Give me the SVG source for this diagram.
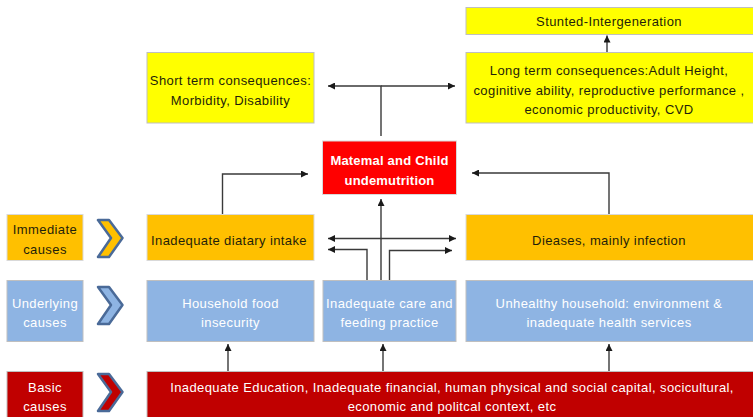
<svg xmlns="http://www.w3.org/2000/svg" width="753" height="417" viewBox="0 0 753 417">
<defs>
<style>
text{font-family:"Liberation Sans",Arial,sans-serif;font-size:13px;letter-spacing:0.4px;text-anchor:middle}
.dk{fill:#1f1f0a}
.wt{fill:#ffffff}
.bold{font-weight:bold;letter-spacing:0.2px}
.yel{fill:#ffff00;stroke:#bfbfbf;stroke-width:1}
.org{fill:#ffc000;stroke:#d9d9d9;stroke-width:1}
.blu{fill:#8eb4e3;stroke:#bfbfbf;stroke-width:1}
.red{fill:#c00000;stroke:#bfbfbf;stroke-width:1}
.mat{fill:#ff0000;stroke:#d9d9d9;stroke-width:1}
.chev{stroke:#4a6a98;stroke-width:2.5;stroke-linejoin:round}
.con path{fill:none;stroke:#3a3a3a;stroke-width:1.4}
</style>
<marker id="ah" viewBox="0 0 10 10" refX="10" refY="5" markerWidth="8" markerHeight="7" markerUnits="userSpaceOnUse" orient="auto-start-reverse">
<path d="M0,0 L10,5 L0,10 z" fill="#1a1a1a"/>
</marker>
</defs>
<rect width="753" height="417" fill="#ffffff"/>

<g id="stunted">
<rect class="yel" x="466" y="7.5" width="290" height="27"/>
<text class="dk" x="609" y="26">Stunted-Intergeneration</text>
</g>
<g id="short-term">
<rect class="yel" x="147" y="52.5" width="167" height="70.5"/>
<text class="dk" x="230.5" y="84.5">Short term consequences:</text>
<text class="dk" x="230.5" y="105">Morbidity, Disability</text>
</g>
<g id="long-term">
<rect class="yel" x="466" y="52.5" width="290" height="70.5"/>
<text class="dk" x="609" y="74.5">Long term consequences:Adult Height,</text>
<text class="dk" x="609" y="95">coginitive ability, reproductive performance ,</text>
<text class="dk" x="609" y="114">economic productivity, CVD</text>
</g>
<g id="maternal">
<rect class="mat" x="322.5" y="141" width="134" height="53.5"/>
<text class="wt bold" x="389.5" y="164.5">Matemal and Child</text>
<text class="wt bold" x="389.5" y="184.5">undemutrition</text>
</g>

<g id="immediate-label">
<rect class="org" x="7" y="214.5" width="76" height="46"/>
<text class="dk" x="45" y="234">Immediate</text>
<text class="dk" x="45" y="253.5">causes</text>
</g>
<g id="immediate-chevron">
<path class="chev" fill="#ffc000" d="M98,220 H109 L122.5,238 L109,257 H98 L111,238 Z"/>
</g>
<g id="intake">
<rect class="org" x="147" y="214.5" width="167" height="46"/>
<text class="dk" x="229" y="244.5">Inadequate diatary intake</text>
</g>
<g id="diseases">
<rect class="org" x="466" y="214.5" width="290" height="46"/>
<text class="dk" x="609" y="244.5">Dieases, mainly infection</text>
</g>

<g id="underlying-label">
<rect class="blu" x="7" y="280.5" width="76" height="61"/>
<text class="wt" x="45" y="307.5">Underlying</text>
<text class="wt" x="45" y="327">causes</text>
</g>
<g id="underlying-chevron">
<path class="chev" fill="#8eb4e3" d="M98,287 H109 L122.5,305 L109,324 H98 L111,305 Z"/>
</g>
<g id="household">
<rect class="blu" x="147" y="280.5" width="167" height="61"/>
<text class="wt" x="230.5" y="307.5">Household food</text>
<text class="wt" x="230.5" y="327">insecurity</text>
</g>
<g id="care">
<rect class="blu" x="323" y="280.5" width="133" height="61"/>
<text class="wt" x="389.5" y="307.5">Inadequate care and</text>
<text class="wt" x="389.5" y="327">feeding practice</text>
</g>
<g id="unhealthy">
<rect class="blu" x="466" y="280.5" width="290" height="61"/>
<text class="wt" x="609" y="307.5">Unhealthy household: environment &amp;</text>
<text class="wt" x="609" y="327">inadequate health services</text>
</g>

<g id="basic-label">
<rect class="red" x="7" y="371.5" width="76" height="50"/>
<text class="wt" x="45" y="391.5">Basic</text>
<text class="wt" x="45" y="411">causes</text>
</g>
<g id="basic-chevron">
<path class="chev" fill="#c00000" d="M98,374 H109 L122.5,392 L109,411 H98 L111,392 Z"/>
</g>
<g id="basic">
<rect class="red" x="147" y="371.5" width="610" height="50"/>
<text class="wt" x="452" y="391.5">Inadequate Education, Inadequate financial, human physical and social capital, socicultural,</text>
<text class="wt" x="452" y="411">economic and politcal context, etc</text>
</g>

<g id="connectors" class="con">
<path d="M381,136 V86 H328" marker-end="url(#ah)"/>
<path d="M381,86 H455" marker-end="url(#ah)"/>
<path d="M607,52 V35.5" marker-end="url(#ah)"/>
<path d="M222.5,214 V174 H308" marker-end="url(#ah)"/>
<path d="M609,214 V173 H472" marker-end="url(#ah)"/>
<path d="M381,280 V199" marker-end="url(#ah)"/>
<path d="M328,238.5 H456" marker-start="url(#ah)" marker-end="url(#ah)"/>
<path d="M367,280 V249.5 H328" marker-end="url(#ah)"/>
<path d="M389.5,280 V250.5 H452" marker-end="url(#ah)"/>
<path d="M228,371 V344" marker-end="url(#ah)"/>
<path d="M383,371 V344" marker-end="url(#ah)"/>
<path d="M609,371 V344" marker-end="url(#ah)"/>
</g>
</svg>
